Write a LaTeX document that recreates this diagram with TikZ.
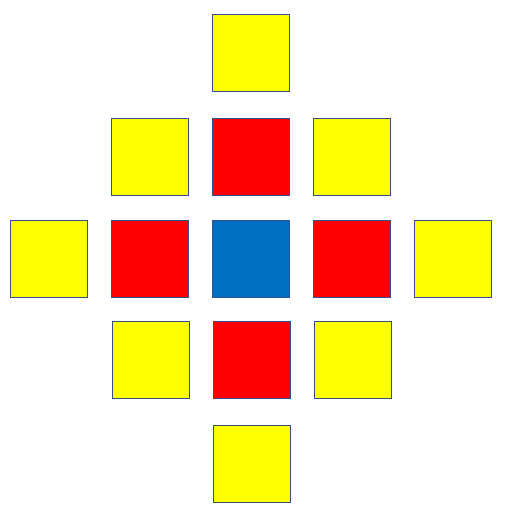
\documentclass[tikz,border=0pt]{standalone}
\begin{document}
\begin{tikzpicture}[x=1pt,y=-1pt,
  sq/.style={draw=edge,line width=1pt,minimum size=77pt,inner sep=0pt,outer sep=0pt},
  ysq/.style={sq,fill=ayellow},
  rsq/.style={sq,fill=ared},
  bsq/.style={sq,fill=ablue}]
\definecolor{edge}{HTML}{2F528F}
\definecolor{ablue}{HTML}{0070C0}
\definecolor{ayellow}{HTML}{FFFF00}
\definecolor{ared}{HTML}{FF0000}
\useasboundingbox (0,0) rectangle (504,517);
\node[ysq] (t) at (250.5,52.5) {};
\node[ysq] (r2a) at (149.5,156.5) {};
\node[rsq] (r2b) at (250.5,156.5) {};
\node[ysq] (r2c) at (351.5,156.5) {};
\node[ysq] (r3a) at (48.5,259) {};
\node[rsq] (r3b) at (149.5,259) {};
\node[bsq] (r3c) at (250.5,259) {};
\node[rsq] (r3d) at (351.5,259) {};
\node[ysq] (r3e) at (452.5,259) {};
\node[ysq] (r4a) at (150.5,359.5) {};
\node[rsq] (r4b) at (251.5,359.5) {};
\node[ysq] (r4c) at (352.5,359.5) {};
\node[ysq] (b) at (251.5,463.5) {};
\end{tikzpicture}
\end{document}
